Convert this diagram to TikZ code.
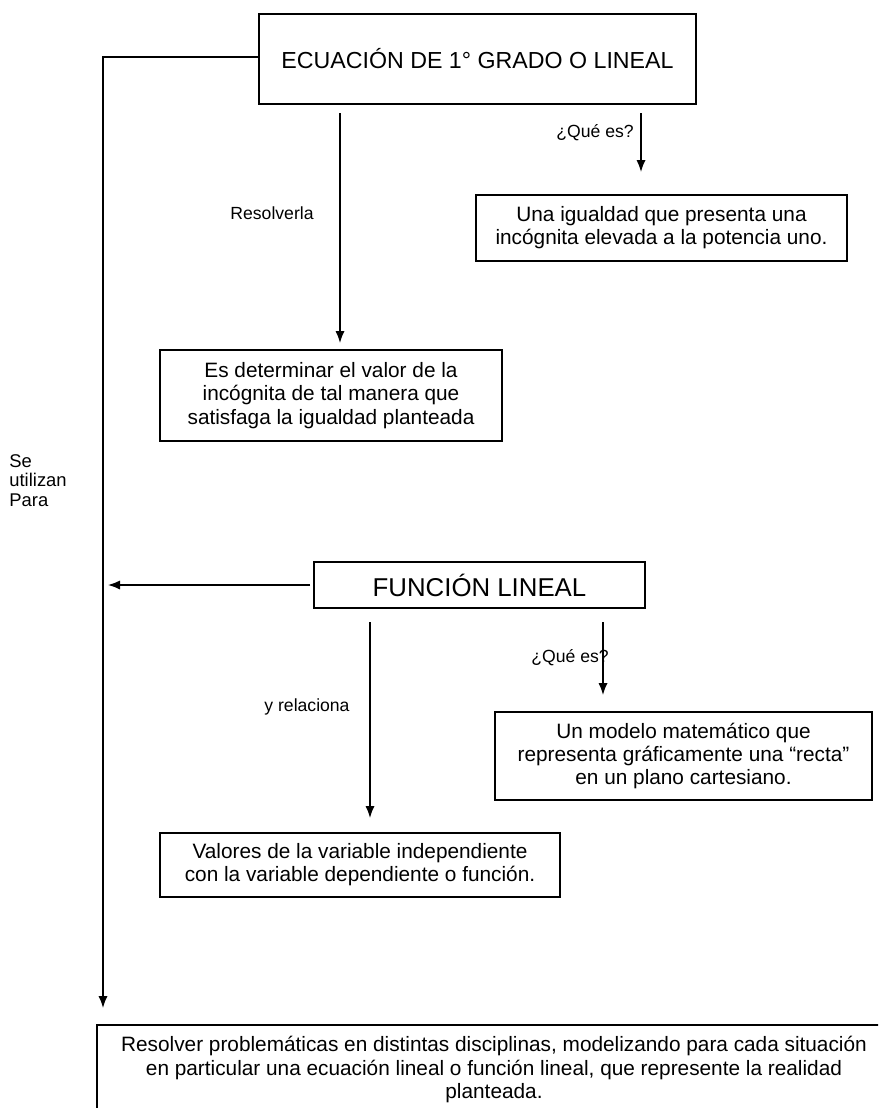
\documentclass[tikz,border=0pt]{standalone}
\usepackage{fontspec}
\setmainfont{Liberation Sans}
\usetikzlibrary{
  arrows.meta,
  positioning
}
\tikzset{
  % For concept boxes.
  concept/.style={
    draw,
    line width=0.7pt,
    align=center,
    inner sep=0pt,
    outer sep=0pt,
    font=\fontsize{10.4}{11.6}\selectfont},
%
  % For the two main headings.
  heading/.style={
    concept,
    font=\fontsize{11.6}{14}\selectfont},
%
  % For connectors.
  link/.style={
    line width=0.7pt,
    -{Latex[length=6pt,width=4.6pt]}},
%
  % For connector labels.
  tag/.style={
    inner sep=0pt,
    font=\fontsize{8.8}{10}\selectfont},
}

\begin{document}
\begin{tikzpicture}[x=0.5pt, y=-0.5pt]
  \useasboundingbox (0,0) rectangle (878,1108);
  \clip (0,0) rectangle (878,1108);

  \coordinate (xa) at (340,0);
  \coordinate (xb) at (641,0);
  \coordinate (xc) at (370,0);
  \coordinate (xd) at (603,0);
  \coordinate (side) at (103,0);

  \node[heading, minimum width=218.5pt, minimum height=45pt]
    (eq) at (477.5,59) {ECUACIÓN DE 1° GRADO O LINEAL};
  \node[concept, minimum width=185.5pt, minimum height=33pt]
    (def) at (661.5,228)
    {Una igualdad que presenta una\\incógnita elevada a la potencia uno.};
  \node[concept, minimum width=171pt, minimum height=45.5pt]
    (solve) at (331,395.5)
    {Es determinar el valor de la\\incógnita de tal manera que\\satisfaga la igualdad planteada};
  \node[heading, minimum width=165.5pt, minimum height=23pt,
        font=\fontsize{12.9}{15}\selectfont]
    (func) at (479.5,585) {FUNCIÓN LINEAL};
  \node[concept, minimum width=188.5pt, minimum height=44pt]
    (model) at (683.5,756)
    {Un modelo matemático que\\representa gráficamente una “recta”\\en un plano cartesiano.};
  \node[concept, minimum width=200pt, minimum height=32pt]
    (vals) at (360,865)
    {Valores de la variable independiente\\con la variable dependiente o función.};
  \node[concept, minimum width=397pt, minimum height=44.5pt]
    (res) at (494,1069.5)
    {Resolver problemáticas en distintas disciplinas, modelizando para cada situación\\en particular una ecuación lineal o función lineal, que represente la realidad\\planteada.};

  \node[tag] (ask1) at (595,133) {¿Qué es?};
  \node[tag] (howto) at (272,213) {Resolverla};
  \node[tag] (ask2) at (570,658) {¿Qué es?};
  \node[tag] (relates) at (307,707) {y relaciona};
  \node[tag, anchor=north west, align=left,
        font=\fontsize{9.2}{9.8}\selectfont]
    (usefor) at (9,454) {Se\\utilizan\\Para};

  \draw[link, shorten <=4.5pt, shorten >=3.5pt] (eq.south -| xa) -- (solve.north -| xa);
  \draw[link, shorten <=4.5pt, shorten >=11.5pt] (eq.south -| xb) -- (def.north -| xb);
  \draw[link, shorten >=8.5pt] ([yshift=1pt]eq.west) -| (res.north -| side);
  \draw[link, shorten <=2pt, shorten >=2.5pt] (func.west) -- (func.west -| side);
  \draw[link, shorten <=7pt, shorten >=7.5pt] (func.south -| xc) -- (vals.north -| xc);
  \draw[link, shorten <=7pt, shorten >=8.5pt] (func.south -| xd) -- (model.north -| xd);
\end{tikzpicture}
\end{document}
